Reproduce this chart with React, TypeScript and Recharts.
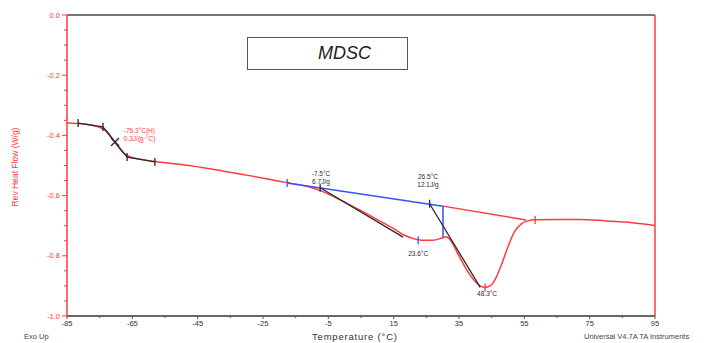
import React from 'react'
import {
  ComposedChart, Line, Scatter, XAxis, YAxis, ReferenceLine,
} from 'recharts'

// reversing heat flow curve (temperature °C, W/g)
const curve = [
  { t: -85, v: -0.359 }, { t: -80, v: -0.362 }, { t: -76, v: -0.37 }, { t: -73, v: -0.385 },
  { t: -70.5, v: -0.42 }, { t: -68, v: -0.455 }, { t: -66, v: -0.47 }, { t: -63, v: -0.478 },
  { t: -58, v: -0.487 }, { t: -50, v: -0.497 }, { t: -40, v: -0.513 }, { t: -30, v: -0.532 },
  { t: -20, v: -0.552 }, { t: -15, v: -0.562 }, { t: -10, v: -0.574 }, { t: -7, v: -0.585 },
  { t: -4, v: -0.6 }, { t: 0, v: -0.622 }, { t: 5, v: -0.65 }, { t: 10, v: -0.68 },
  { t: 15, v: -0.71 }, { t: 18, v: -0.73 }, { t: 21, v: -0.743 }, { t: 23.6, v: -0.748 },
  { t: 27, v: -0.748 }, { t: 29.5, v: -0.742 }, { t: 31, v: -0.737 }, { t: 32.5, v: -0.75 },
  { t: 34.5, v: -0.79 }, { t: 37, v: -0.84 }, { t: 39.5, v: -0.88 }, { t: 41.5, v: -0.9 },
  { t: 43, v: -0.905 }, { t: 44.5, v: -0.9 }, { t: 46, v: -0.88 }, { t: 48, v: -0.83 },
  { t: 50, v: -0.77 }, { t: 52, v: -0.72 }, { t: 54, v: -0.695 }, { t: 56, v: -0.684 },
  { t: 58.5, v: -0.68 }, { t: 65, v: -0.679 }, { t: 72, v: -0.679 }, { t: 80, v: -0.684 },
  { t: 88, v: -0.69 }, { t: 95, v: -0.699 },
]

// analysis constructions
const glassSteps = [
  { t: -81.6, v: -0.359 }, { t: -74.0, v: -0.372 }, { t: -66.6, v: -0.472 }, { t: -58.1, v: -0.488 },
]
const tangentLow = [{ t: -7.5, v: -0.574 }, { t: 17.9, v: -0.738 }]
const tangentPeak = [{ t: 26.0, v: -0.627 }, { t: 41.5, v: -0.905 }]
const blueBase = [{ t: -17.6, v: -0.558 }, { t: 30.1, v: -0.635 }]
const blueDrop = [{ t: 30.1, v: -0.635 }, { t: 30.1, v: -0.738 }]
const redBase = [{ t: 30.1, v: -0.635 }, { t: 55.5, v: -0.681 }]

const blackTicks = [
  { t: -81.6, v: -0.359 }, { t: -74.0, v: -0.372 }, { t: -66.6, v: -0.472 },
  { t: -58.1, v: -0.488 }, { t: -7.5, v: -0.574 }, { t: 26.0, v: -0.627 },
]
const blackCross = [{ t: -70.3, v: -0.422 }]
const blueTicks = [{ t: -17.6, v: -0.558 }, { t: 22.5, v: -0.748 }]
const redTicks = [{ t: 58.3, v: -0.681 }, { t: 43, v: -0.905 }]

const redNotes = [{ t: -67.6, v: -0.385, lines: ['-76.3°C(H)', '0.3J/(g·°C)'] }]
const darkNotes = [
  { t: -7.25, v: -0.525, lines: ['-7.5°C', '6.7J/g'] },
  { t: 25.5, v: -0.538, lines: ['26.5°C', '12.1J/g'] },
  { t: 22.5, v: -0.791, lines: ['23.6°C'] },
  { t: 43.6, v: -0.924, lines: ['48.3°C'] },
]

const xTicks = [-85, -75, -65, -55, -45, -35, -25, -15, -5, 5, 15, 25, 35, 45, 55, 65, 75, 85, 95]
const xLabels = [-85, -65, -45, -25, -5, 15, 35, 55, 75, 95]
const yTicks = [
  0, -0.05, -0.1, -0.15, -0.2, -0.25, -0.3, -0.35, -0.4, -0.45, -0.5,
  -0.55, -0.6, -0.65, -0.7, -0.75, -0.8, -0.85, -0.9, -0.95, -1.0,
]
const yLabels = [0, -0.2, -0.4, -0.6, -0.8, -1.0]

const RED = '#ff3b3b'
const BLUE = '#3850ff'
const DARK = '#2a2a2a'
const FONT = '"Liberation Sans", Arial, sans-serif'

const isLabel = (list: number[], v: number) => list.some(l => Math.abs(l - v) < 1e-6)

function YTick({ x, y, payload }: any) {
  const major = isLabel(yLabels, payload.value)
  return (
    <g>
      <line x1={x - (major ? 5 : 3)} x2={x} y1={y} y2={y} stroke={RED} strokeWidth={1} />
      {major && (
        <text x={x - 7} y={y} textAnchor="end" dominantBaseline="central"
          fontSize={7.5} fill={RED} fontFamily={FONT}>
          {payload.value === 0 ? '0.0' : payload.value.toFixed(1)}
        </text>
      )}
    </g>
  )
}

function XTick({ x, y, payload }: any) {
  const major = isLabel(xLabels, payload.value)
  return (
    <g>
      <line x1={x} x2={x} y1={y} y2={y + (major ? 3 : 2)} stroke="#555" strokeWidth={1} />
      {major && (
        <text x={x} y={y + 10} textAnchor="middle" fontSize={7.5} fill="#333" fontFamily={FONT}>
          {payload.value}
        </text>
      )}
    </g>
  )
}

const vTick = (color: string) => (p: any) => (
  <line x1={p.cx} x2={p.cx} y1={p.cy - 4} y2={p.cy + 4} stroke={color} strokeWidth={1.3} />
)

const crossMark = (p: any) => (
  <g stroke={DARK} strokeWidth={1.3}>
    <line x1={p.cx - 4} x2={p.cx + 4} y1={p.cy - 4} y2={p.cy + 4} />
    <line x1={p.cx - 4} x2={p.cx + 4} y1={p.cy + 4} y2={p.cy - 4} />
  </g>
)

const note = (color: string, anchor: string) => (p: any) => (
  <text x={p.cx} y={p.cy} textAnchor={anchor} fontSize={6.5} fill={color} fontFamily={FONT}>
    {p.payload.lines.map((s: string, i: number) => (
      <tspan key={i} x={p.cx} y={p.cy + i * 8} dominantBaseline="central">{s}</tspan>
    ))}
  </text>
)

export default function App() {
  return (
    <div style={{ position: 'absolute', left: 0, top: 0, width: 713, height: 343, background: '#fff' }}>
      <ComposedChart width={713} height={343} margin={{ top: 15, right: 58, bottom: 0, left: 0 }}>
        <XAxis dataKey="t" type="number" domain={[-85, 95]} ticks={xTicks} interval={0}
          allowDataOverflow tick={<XTick />} tickLine={false} height={27} tickSize={0} tickMargin={0}
          axisLine={{ stroke: '#666', strokeWidth: 2 }} />
        <YAxis type="number" domain={[-1, 0]} ticks={yTicks} interval={0} allowDataOverflow
          tick={<YTick />} tickLine={false} width={67} tickSize={0} tickMargin={0}
          axisLine={{ stroke: RED, strokeWidth: 1.5 }} />
        <ReferenceLine y={0} stroke="#777" strokeWidth={2} />
        <ReferenceLine x={95} stroke={RED} strokeWidth={1.5} />

        <Line data={curve} dataKey="v" type="monotone" stroke={RED} strokeWidth={1.5}
          dot={false} isAnimationActive={false} />
        <Line data={redBase} dataKey="v" type="linear" stroke={RED} strokeWidth={1.5}
          dot={false} isAnimationActive={false} />
        <Line data={blueBase} dataKey="v" type="linear" stroke={BLUE} strokeWidth={1.5}
          dot={false} isAnimationActive={false} />
        <Line data={blueDrop} dataKey="v" type="linear" stroke={BLUE} strokeWidth={1.5}
          dot={false} isAnimationActive={false} />
        <Line data={glassSteps} dataKey="v" type="linear" stroke={DARK} strokeWidth={1.3}
          dot={false} isAnimationActive={false} />
        <Line data={tangentLow} dataKey="v" type="linear" stroke={DARK} strokeWidth={1.3}
          dot={false} isAnimationActive={false} />
        <Line data={tangentPeak} dataKey="v" type="linear" stroke={DARK} strokeWidth={1.3}
          dot={false} isAnimationActive={false} />

        <Scatter data={blackTicks} dataKey="v" shape={vTick(DARK)} isAnimationActive={false} />
        <Scatter data={blackCross} dataKey="v" shape={crossMark} isAnimationActive={false} />
        <Scatter data={blueTicks} dataKey="v" shape={vTick(BLUE)} isAnimationActive={false} />
        <Scatter data={redTicks} dataKey="v" shape={vTick(RED)} isAnimationActive={false} />
        <Scatter data={redNotes} dataKey="v" shape={note(RED, 'start')} isAnimationActive={false} />
        <Scatter data={darkNotes} dataKey="v" shape={note(DARK, 'middle')} isAnimationActive={false} />
      </ComposedChart>

      <div style={{
        position: 'absolute', left: 6, top: 167, transform: 'translate(-50%, -50%) rotate(-90deg)',
        transformOrigin: 'center', whiteSpace: 'nowrap', color: RED, fontFamily: FONT, fontSize: 8.5,
        marginLeft: 9,
      }}>Rev Heat Flow (W/g)</div>
      <div style={{
        position: 'absolute', left: 24, top: 332, color: '#444', fontFamily: FONT, fontSize: 7.5,
      }}>Exo Up</div>
      <div style={{
        position: 'absolute', left: 312, top: 331, color: '#333', fontFamily: FONT, fontSize: 9.5,
        letterSpacing: 0.8,
      }}>Temperature (°C)</div>
      <div style={{
        position: 'absolute', left: 584, top: 332, color: '#444', fontFamily: FONT, fontSize: 7.5,
        whiteSpace: 'nowrap',
      }}>Universal V4.7A TA Instruments</div>
      <div style={{
        position: 'absolute', left: 247, top: 37, width: 161, height: 33, boxSizing: 'border-box',
        border: '1px solid #555', fontFamily: FONT, fontStyle: 'italic', fontSize: 18,
        color: '#222', lineHeight: '31px', paddingLeft: 70,
      }}>MDSC</div>
    </div>
  )
}
